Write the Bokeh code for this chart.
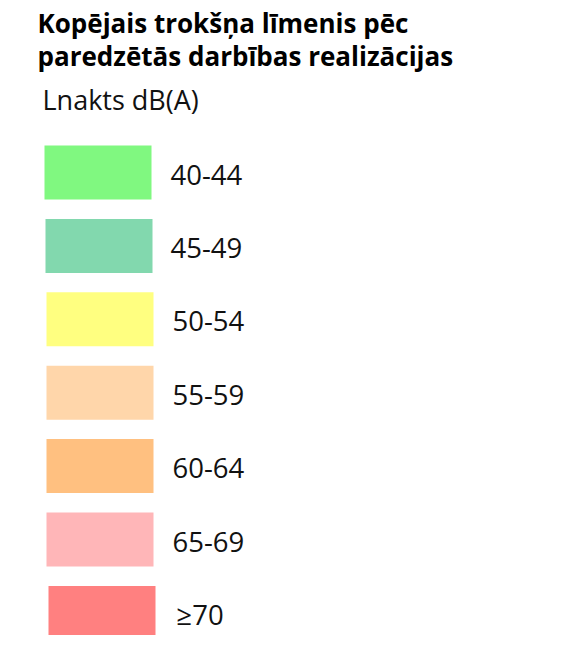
from bokeh.plotting import figure
from bokeh.models import Range1d
from bokeh.core.properties import value
from bokeh.embed import file_html
from bokeh.resources import INLINE

title_lines = ["Kopējais trokšņa līmenis pēc", "paredzētās darbības realizācijas"]
subtitle = "Lnakts dB(A)"
categories = ["40-44", "45-49", "50-54", "55-59", "60-64", "65-69", "≥70"]
colors = ["#80F880", "#82D8AE", "#FFFF80", "#FFD6AA", "#FFC080", "#FFB6B8", "#FF8080"]

W, H = 562, 635
p = figure(width=W, height=H, output_backend="svg", toolbar_location=None,
           x_range=Range1d(0, W), y_range=Range1d(H, 0), min_border=0)
p.axis.visible = False
p.grid.visible = False
p.outline_line_color = None

# layout
box_w, box_h = 107, 54
n = len(categories)
left_shift = [0, 1, 2, 2, 2, 2, 4]
lefts = [44 + s for s in left_shift]
tops = [145 + 73.4 * i for i in range(n)]
p.quad(left=lefts, right=[l + box_w for l in lefts], top=tops,
       bottom=[t + box_h for t in tops], fill_color=colors, line_color=None)

label_shift = [0, 0, 2, 2, 2, 2, 6]
p.text(x=[170 + s for s in label_shift], y=[t + box_h / 2 + 2 for t in tops],
       text=categories, text_font=value("Open Sans"), text_font_size="27.5px",
       text_color="#111111", text_baseline="middle", text_align="left")

p.text(x=[37, 37], y=[22, 55], text=title_lines, text_font=value("Open Sans"),
       text_font_size="26px", text_font_style="bold", text_color="#000000",
       text_baseline="middle")
p.text(x=[42], y=[99], text=[subtitle], text_font=value("Open Sans"),
       text_font_size="27px", text_color="#111111", text_baseline="middle")

open("out.html", "w").write(file_html(p, INLINE))
